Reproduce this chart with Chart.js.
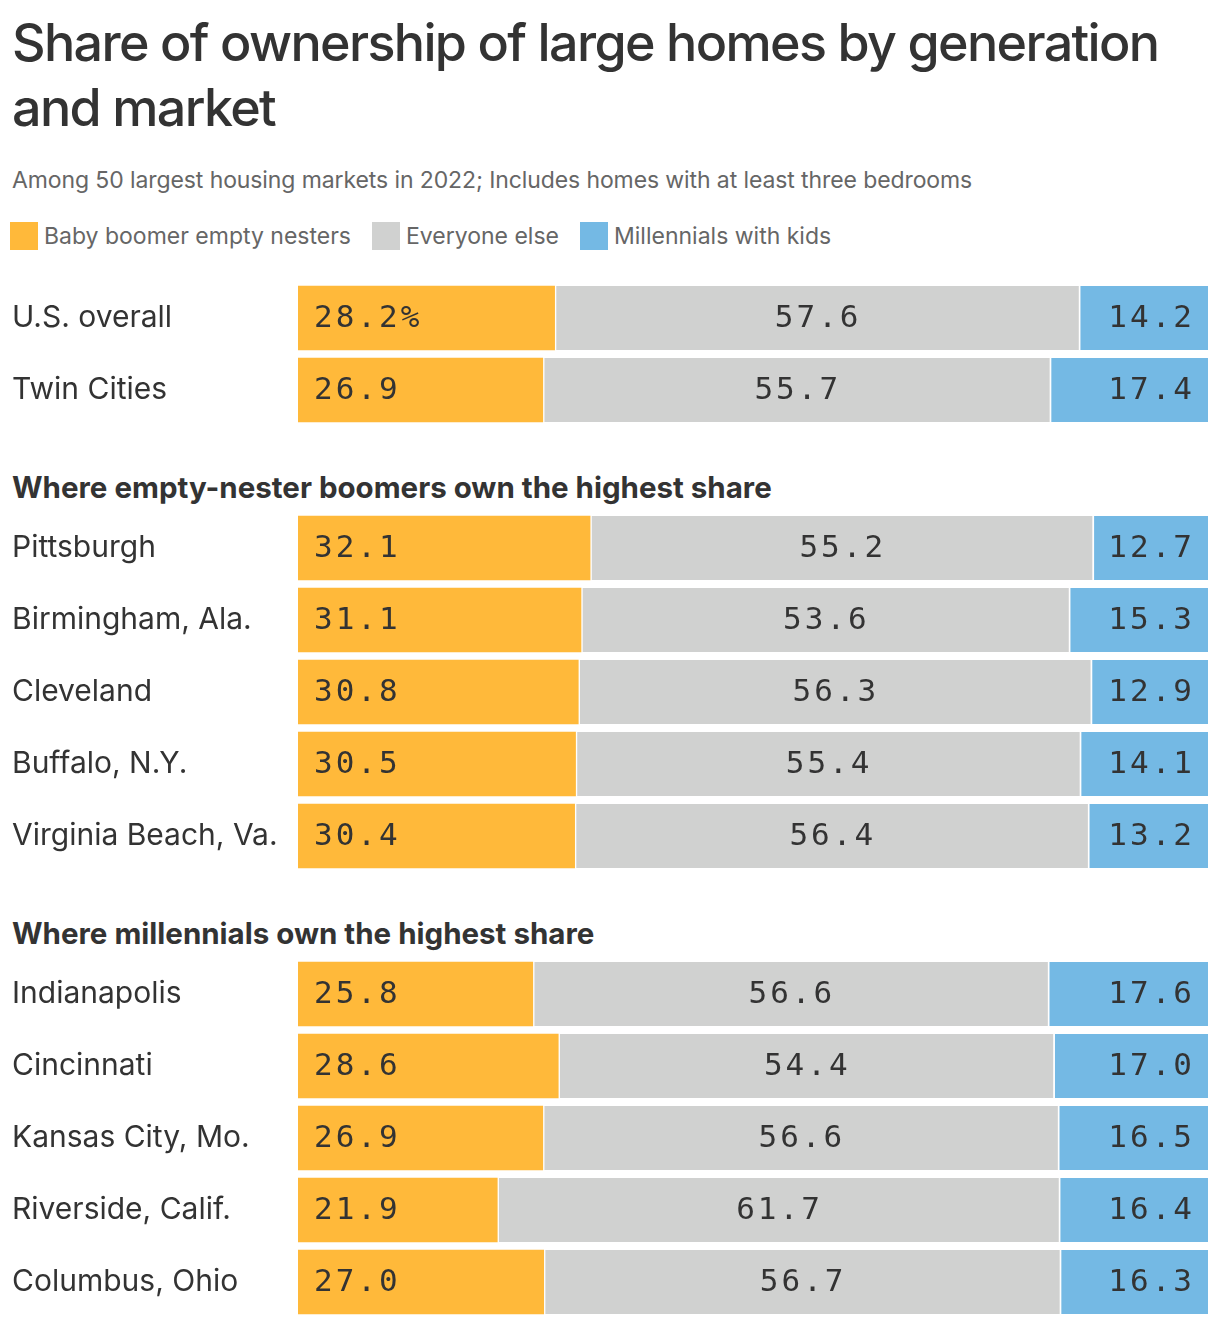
<!DOCTYPE html>
<html>
<head>
<meta charset="utf-8">
<script src="https://cdn.jsdelivr.net/npm/chart.js@4.4.1/dist/chart.umd.min.js"></script>
<style>
	body { margin: 0; background: #fff; font-family: Inter, "Noto Sans", sans-serif; color: #333; }
	#page { position: relative; width: 1220px; height: 1326px; }
	.title { position: absolute; left: 12px; top: 10px; width: 1200px; font-size: 52px; line-height: 65px; font-weight: 500; color: #333; letter-spacing: -1.65px; }
	.subtitle { position: absolute; left: 12px; top: 165px; font-size: 23px; line-height: 30px; color: #666; letter-spacing: -0.1px; white-space: nowrap; }
	.legend { position: absolute; left: 10px; top: 222px; height: 28px; display: flex; align-items: center; font-size: 23px; color: #666; white-space: nowrap; }
	.legend span.box { display: inline-block; width: 28px; height: 28px; margin-right: 6px; }
	.legend span.item { display: flex; align-items: center; margin-right: 21px; }
	.group { position: absolute; left: 12px; font-size: 29.5px; font-weight: 700; line-height: 34px; color: #333; white-space: nowrap; }
	.chartbox { position: absolute; left: 12px; width: 1196px; }
</style>
</head>
<body>
<div id="page">
	<div class="title">Share of ownership of large homes by generation and market</div>
	<div class="subtitle">Among 50 largest housing markets in 2022; Includes homes with at least three bedrooms</div>
	<div class="legend" id="legend"></div>
	<div class="chartbox" style="top:282px;height:144px"><canvas id="chartOverall"></canvas></div>
	<div class="group" id="groupBoomers" style="top:470px"></div>
	<div class="chartbox" style="top:512px;height:360px"><canvas id="chartBoomers"></canvas></div>
	<div class="group" id="groupMillennials" style="top:916px"></div>
	<div class="chartbox" style="top:958px;height:360px"><canvas id="chartMillennials"></canvas></div>
</div>
<script>
// series names and colors
const seriesNames = ['Baby boomer empty nesters', 'Everyone else', 'Millennials with kids'];
const seriesColors = ['#FFB93A', '#D0D1D0', '#74B9E4'];

// group headings
const groupTitles = ['Where empty-nester boomers own the highest share', 'Where millennials own the highest share'];

// U.S. overall + Twin Cities
const overallMarkets = ['U.S. overall', 'Twin Cities'];
const overallBoomers = [28.2, 26.9];
const overallEveryone = [57.6, 55.7];
const overallMillennials = [14.2, 17.4];

// where boomers own the highest share
const boomerMarkets = ['Pittsburgh', 'Birmingham, Ala.', 'Cleveland', 'Buffalo, N.Y.', 'Virginia Beach, Va.'];
const boomerBoomers = [32.1, 31.1, 30.8, 30.5, 30.4];
const boomerEveryone = [55.2, 53.6, 56.3, 55.4, 56.4];
const boomerMillennials = [12.7, 15.3, 12.9, 14.1, 13.2];

// where millennials own the highest share
const millMarkets = ['Indianapolis', 'Cincinnati', 'Kansas City, Mo.', 'Riverside, Calif.', 'Columbus, Ohio'];
const millBoomers = [25.8, 28.6, 26.9, 21.9, 27.0];
const millEveryone = [56.6, 54.4, 56.6, 61.7, 56.7];
const millMillennials = [17.6, 17.0, 16.5, 16.4, 16.3];

// html legend
const legendElt = document.getElementById('legend');
seriesNames.forEach((name, i) => {
	const item = document.createElement('span');
	item.className = 'item';
	const box = document.createElement('span');
	box.className = 'box';
	box.style.background = seriesColors[i];
	item.appendChild(box);
	item.appendChild(document.createTextNode(name));
	legendElt.appendChild(item);
});
document.getElementById('groupBoomers').textContent = groupTitles[0];
document.getElementById('groupMillennials').textContent = groupTitles[1];

const LABEL_FONT = '31px "DejaVu Sans Mono", monospace';
const LABEL_SPACING = 3;

// draws the value inside each segment: left, centered, right
const barLabels = {
	id: 'barLabels',
	afterDatasetsDraw(chart) {
		const ctx = chart.ctx;
		ctx.save();
		ctx.font = LABEL_FONT;
		ctx.fillStyle = '#333';
		ctx.textBaseline = 'middle';
		ctx.letterSpacing = LABEL_SPACING + 'px';
		chart.data.datasets.forEach((dataset, di) => {
			const meta = chart.getDatasetMeta(di);
			meta.data.forEach((bar, i) => {
				let text = dataset.data[i].toFixed(1);
				if (chart.options.firstPercent && di == 0 && i == 0) {
					text += '%';
				}
				const start = Math.min(bar.x, bar.base);
				const end = Math.max(bar.x, bar.base);
				let x;
				if (di == 0) {
					ctx.textAlign = 'left';
					x = start + 16;
				} else if (di == 1) {
					ctx.textAlign = 'center';
					x = (start + end) / 2 + LABEL_SPACING / 2;
				} else {
					ctx.textAlign = 'right';
					x = end - 16 + LABEL_SPACING;
				}
				ctx.fillText(text, x, bar.y + 1);
			});
		});
		ctx.restore();
	}
};

function makeChart(canvasId, markets, boomers, everyone, millennials, firstPercent) {
	const values = [boomers, everyone, millennials];
	return new Chart(document.getElementById(canvasId), {
		type: 'bar',
		data: {
			labels: markets,
			datasets: values.map((data, i) => ({
				label: seriesNames[i],
				data: data,
				backgroundColor: seriesColors[i],
				borderColor: '#fff',
				borderWidth: i == 0 ? 0 : { left: 2, right: 0, top: 0, bottom: 0 },
				borderSkipped: false,
				barThickness: 64
			}))
		},
		options: {
			indexAxis: 'y',
			responsive: true,
			maintainAspectRatio: false,
			animation: false,
			firstPercent: firstPercent,
			layout: { padding: 0 },
			scales: {
				x: {
					stacked: true,
					min: 0,
					max: 100,
					display: false
				},
				y: {
					stacked: true,
					grid: { display: false },
					border: { display: false },
					ticks: {
						crossAlign: 'far',
						padding: 0,
						color: '#333',
						font: { family: 'Inter, "Noto Sans", sans-serif', size: 30 }
					},
					// fixed label column, and no extra room for the label halves
					afterFit: (scale) => {
						scale.width = 286;
						scale.paddingTop = 0;
						scale.paddingBottom = 0;
					}
				}
			},
			plugins: {
				legend: { display: false },
				tooltip: { enabled: false }
			}
		},
		plugins: [barLabels]
	});
}

makeChart('chartOverall', overallMarkets, overallBoomers, overallEveryone, overallMillennials, true);
makeChart('chartBoomers', boomerMarkets, boomerBoomers, boomerEveryone, boomerMillennials, false);
makeChart('chartMillennials', millMarkets, millBoomers, millEveryone, millMillennials, false);
</script>
</body>
</html>
